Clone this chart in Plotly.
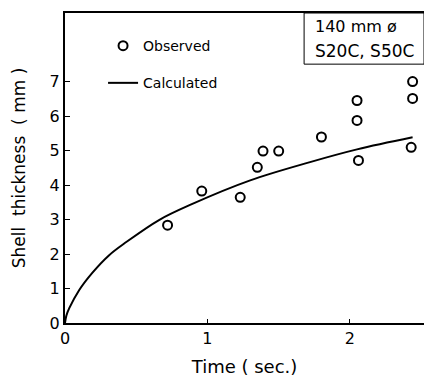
import plotly.graph_objects as go

# Observed data points (time in sec, shell thickness in mm)
obs_time = [0.72, 0.96, 1.23, 1.35, 1.39, 1.50, 1.80, 2.05, 2.05, 2.06, 2.44, 2.44, 2.43]
obs_thick = [2.84, 3.83, 3.65, 4.52, 4.99, 4.99, 5.40, 6.46, 5.88, 4.72, 7.01, 6.52, 5.10]

# Calculated curve
calc_time = [0.0, 0.01, 0.03, 0.10, 0.19, 0.31, 0.43, 0.66, 0.89, 1.30, 1.72, 2.05, 2.44]
calc_thick = [0.0, 0.22, 0.43, 0.96, 1.45, 1.97, 2.35, 2.99, 3.45, 4.14, 4.67, 5.04, 5.39]

x_ticks = [0, 1, 2]
y_ticks = [0, 1, 2, 3, 4, 5, 6, 7]

FONT = "DejaVu Sans"

fig = go.Figure()
fig.add_trace(go.Scatter(
    x=obs_time, y=obs_thick, mode="markers", name="Observed",
    legendgroup="a",
    marker=dict(symbol="circle-open", size=9, color="black", line=dict(width=2, color="black")),
))
fig.add_trace(go.Scatter(
    x=calc_time, y=calc_thick, mode="lines", name="Calculated",
    legendgroup="b", line=dict(color="black", width=2, shape="spline"),
))

fig.update_layout(
    width=424, height=378,
    margin=dict(l=65, r=0, t=13, b=55),
    paper_bgcolor="white", plot_bgcolor="white",
    font=dict(family=FONT, color="black"),
    showlegend=True,
    legend=dict(
        x=0.106, y=0.945, xanchor="left", yanchor="top",
        bgcolor="rgba(0,0,0,0)", font=dict(size=14, family=FONT),
        tracegroupgap=16, itemwidth=30,
    ),
    xaxis=dict(
        range=[0, 2.52], tickvals=x_ticks, ticktext=[str(v) for v in x_ticks],
        showgrid=False, zeroline=False, showline=True, linecolor="black", linewidth=2,
        mirror=True, ticks="inside", ticklen=4, tickcolor="black",
        tickfont=dict(size=16), title=dict(text="Time ( sec.)", font=dict(size=18), standoff=13),
    ),
    yaxis=dict(
        range=[0, 9], tickvals=y_ticks, ticktext=[str(v) for v in y_ticks],
        showgrid=False, zeroline=False, showline=True, linecolor="black", linewidth=2,
        ticks="inside", ticklen=5, tickcolor="black",
        tickfont=dict(size=16), title=dict(text="Shell  thickness  ( mm )", font=dict(size=17), standoff=20),
    ),
)

# Condition box in the top-right corner
fig.add_shape(type="rect", xref="paper", yref="paper", x0=0.666, x1=1.0, y0=0.835, y1=1.0,
              line=dict(color="black", width=1), fillcolor="white", layer="below")
fig.add_annotation(xref="paper", yref="paper", x=0.69, y=0.955, xanchor="left", yanchor="middle",
                   text="140 mm ø", showarrow=False, font=dict(size=16))
fig.add_annotation(xref="paper", yref="paper", x=0.69, y=0.877, xanchor="left", yanchor="middle",
                   text="S20C, S50C", showarrow=False, font=dict(size=17))

fig.write_html("out.html", config={"displayModeBar": False},
               post_script="document.body.style.margin='0';")
